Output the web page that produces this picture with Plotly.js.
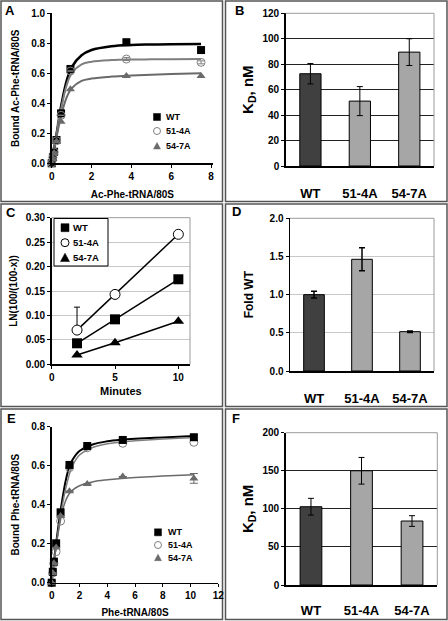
<!DOCTYPE html>
<html><head><meta charset="utf-8">
<script src="https://cdn.plot.ly/plotly-3.0.1.min.js"></script>
<style>html,body{margin:0;padding:0;background:#fff}</style>
</head><body><div id="chart" style="width:448px;height:621px"></div>
<script>
// ---------- DATA ----------
const seriesNames = ['WT', '51-4A', '54-7A'];
const barCats = ['WT', '51-4A', '54-7A'];

// Panel A: Ac-Phe-tRNA binding
const aX      = [0, 0.06, 0.12, 0.24, 0.47, 0.94, 3.75, 7.5];
const aWT     = [0, 0.04, 0.077, 0.155, 0.333, 0.629, 0.807, 0.755];
const aWTErr  = [0, 0, 0, 0, 0, 0, 0.02, 0];
const a514    = [0, 0.04, 0.075, 0.15, 0.32, 0.615, 0.695, 0.673];
const a514Err = [0, 0, 0, 0, 0, 0, 0.01, 0.01];
const a547    = [0, 0.03, 0.068, 0.145, 0.277, 0.493, 0.582, 0.582];
const aFitX     = [0, 0.25, 0.5, 0.75, 1, 1.5, 2, 3, 4, 5, 6, 7.5];
const aFitWT    = [0, 0.2, 0.4, 0.55, 0.64, 0.72, 0.755, 0.78, 0.789, 0.792, 0.794, 0.795];
const aFit514   = [0, 0.2, 0.38, 0.52, 0.6, 0.66, 0.677, 0.688, 0.692, 0.693, 0.694, 0.695];
const aFit547   = [0, 0.18, 0.33, 0.44, 0.5, 0.55, 0.565, 0.578, 0.585, 0.59, 0.595, 0.6];

// Panel B: KD (nM)
const bVals = [72.5, 51, 89.5];
const bErr  = [8, 11.4, 10.5];

// Panel C: LN(100/(100-x)) vs minutes
const cX      = [2, 5, 10];
const cWT     = [0.043, 0.092, 0.174];
const c514    = [0.07, 0.143, 0.266];
const c514Err = [0.047, 0, 0];
const c547    = [0.019, 0.044, 0.088];

// Panel D: Fold WT
const dVals = [1.0, 1.463, 0.515];
const dErr  = [0.045, 0.15, 0.01];

// Panel E: Phe-tRNA binding
const eX      = [0, 0.08, 0.16, 0.32, 0.64, 1.28, 2.56, 5.12, 10.24];
const eWT     = [0, 0.056, 0.108, 0.202, 0.361, 0.604, 0.701, 0.732, 0.746];
const e514    = [0, 0.05, 0.1, 0.159, 0.316, 0.59, 0.692, 0.715, 0.72];
const e547    = [0, 0.05, 0.1, 0.18, 0.342, 0.469, 0.506, 0.544, 0.535];
const e547Err = [0, 0, 0, 0, 0, 0, 0, 0, 0.025];
const eFitX   = [0, 0.25, 0.5, 0.75, 1, 1.25, 1.5, 2, 3, 4, 5, 6, 8, 10.24];
const eFitWT  = [0, 0.16, 0.3, 0.42, 0.52, 0.59, 0.63, 0.675, 0.71, 0.725, 0.733, 0.738, 0.745, 0.752];
const eFit514 = [0, 0.15, 0.28, 0.39, 0.48, 0.55, 0.6, 0.655, 0.695, 0.712, 0.722, 0.728, 0.737, 0.745];
const eFit547 = [0, 0.15, 0.27, 0.36, 0.42, 0.455, 0.475, 0.497, 0.518, 0.528, 0.535, 0.54, 0.547, 0.553];

// Panel F: KD (nM)
const fVals = [102.8, 150, 84];
const fErr  = [11, 17.5, 7];

// ---------- STYLE HELPERS ----------
const W = 448, H = 621;
const px = x => x / W, py = y => 1 - y / H;
const FONT = 'Liberation Sans, Arial, sans-serif';
const bold = (s, c) => ({family: FONT, size: s, weight: 'bold', color: c || '#000'});
const DARK = '#404040', LIGHT = '#a6a6a6';
const G1 = '#7f7f7f', G2 = '#6a6a6a';

function axis(dom, range, anchor, extra) {
  return Object.assign({
    domain: dom, range: range, anchor: anchor, showgrid: false, zeroline: false,
    showline: true, linecolor: '#000', linewidth: 1.5, ticks: 'outside', ticklen: 3,
    tickwidth: 1, tickcolor: '#000', tickfont: bold(10), fixedrange: true
  }, extra || {});
}
const errb = (arr, extra) => Object.assign({type: 'data', array: arr, visible: true, color: '#000', thickness: 1, width: 3}, extra || {});

const traces = [];
// Panel A
traces.push({x: aFitX, y: aFitWT, xaxis: 'x', yaxis: 'y', mode: 'lines', line: {color: '#000', width: 2.5, shape: 'spline'}, showlegend: false, hoverinfo: 'skip'});
traces.push({x: aFitX, y: aFit514, xaxis: 'x', yaxis: 'y', mode: 'lines', line: {color: G1, width: 2, shape: 'spline'}, showlegend: false, hoverinfo: 'skip'});
traces.push({x: aFitX, y: aFit547, xaxis: 'x', yaxis: 'y', mode: 'lines', line: {color: G2, width: 2, shape: 'spline'}, showlegend: false, hoverinfo: 'skip'});
traces.push({x: aX, y: aWT, name: seriesNames[0], xaxis: 'x', yaxis: 'y', mode: 'markers', marker: {symbol: 'square', size: 8, color: '#000'}, error_y: errb(aWTErr), cliponaxis: false, showlegend: false});
traces.push({x: aX, y: a514, name: seriesNames[1], xaxis: 'x', yaxis: 'y', mode: 'markers', marker: {symbol: 'circle-open', size: 8, color: G1, line: {width: 1}}, error_y: errb(a514Err, {color: G1}), cliponaxis: false, showlegend: false});
traces.push({x: aX, y: a547, name: seriesNames[2], xaxis: 'x', yaxis: 'y', mode: 'markers', marker: {symbol: 'triangle-up', size: 8, color: G2}, cliponaxis: false, showlegend: false});

// Panel B
traces.push({x: barCats, y: bVals, type: 'bar', xaxis: 'x2', yaxis: 'y2', marker: {color: [DARK, LIGHT, LIGHT], line: {color: '#000', width: 1}}, error_y: errb(bErr), showlegend: false});

// Panel C
const cTr = (y, name, sym, err) => {
  traces.push({x: cX, y: y, xaxis: 'x3', yaxis: 'y3', mode: 'lines', line: {color: '#000', width: 1.5}, showlegend: false, hoverinfo: 'skip'});
  const t = {x: cX, y: y, name: name, xaxis: 'x3', yaxis: 'y3', mode: 'markers', marker: sym, cliponaxis: false, showlegend: false};
  if (err) t.error_y = errb(err, {arrayminus: [0, 0, 0], symmetric: false, width: 3});
  traces.push(t);
};
cTr(cWT, seriesNames[0], {symbol: 'square', size: 10, color: '#000'});
cTr(c514, seriesNames[1], {symbol: 'circle', size: 10, color: '#fff', line: {color: '#000', width: 1}}, c514Err);
cTr(c547, seriesNames[2], {symbol: 'triangle-up', size: 10, color: '#000'});

// Panel D
traces.push({x: barCats, y: dVals, type: 'bar', xaxis: 'x4', yaxis: 'y4', marker: {color: [DARK, LIGHT, LIGHT], line: {color: '#000', width: 1}}, error_y: errb(dErr, {thickness: 1.5}), showlegend: false});

// Panel E
traces.push({x: eFitX, y: eFitWT, xaxis: 'x5', yaxis: 'y5', mode: 'lines', line: {color: '#000', width: 2, shape: 'spline'}, showlegend: false, hoverinfo: 'skip'});
traces.push({x: eFitX, y: eFit514, xaxis: 'x5', yaxis: 'y5', mode: 'lines', line: {color: G1, width: 1.5, shape: 'spline'}, showlegend: false, hoverinfo: 'skip'});
traces.push({x: eFitX, y: eFit547, xaxis: 'x5', yaxis: 'y5', mode: 'lines', line: {color: G2, width: 1.5, shape: 'spline'}, showlegend: false, hoverinfo: 'skip'});
traces.push({x: eX, y: e514, name: seriesNames[1], xaxis: 'x5', yaxis: 'y5', mode: 'markers', marker: {symbol: 'circle-open', size: 8, color: G1, line: {width: 1}}, cliponaxis: false, showlegend: false});
traces.push({x: eX, y: eWT, name: seriesNames[0], xaxis: 'x5', yaxis: 'y5', mode: 'markers', marker: {symbol: 'square', size: 8, color: '#000'}, cliponaxis: false, showlegend: false});
traces.push({x: eX, y: e547, name: seriesNames[2], xaxis: 'x5', yaxis: 'y5', mode: 'markers', marker: {symbol: 'triangle-up', size: 8, color: G2}, error_y: errb(e547Err, {color: G2, width: 4}), cliponaxis: false, showlegend: false});

// Panel F
traces.push({x: barCats, y: fVals, type: 'bar', xaxis: 'x6', yaxis: 'y6', marker: {color: [DARK, LIGHT, LIGHT], line: {color: '#000', width: 1}}, error_y: errb(fErr), showlegend: false});

// ---------- LAYOUT ----------
const dA = {x: [px(51.7), px(213)], y: [py(163.3), py(13.3)]};
const dB = {x: [px(285.7), px(434)], y: [py(166), py(13.3)]};
const dC = {x: [px(51.7), px(190)], y: [py(364.3), py(217.7)]};
const dD = {x: [px(290), px(434)], y: [py(371), py(218.3)]};
const dE = {x: [px(51.7), px(218.3)], y: [py(582.7), py(426.7)]};
const dF = {x: [px(285.7), px(437.3)], y: [py(585), py(432.7)]};

const barX = (dom, anchor, standoff) => axis(dom, [-0.5, 2.5], anchor, {ticks: '', tickfont: bold(13), ticklabelstandoff: standoff});

const layout = {
  width: W, height: H, margin: {l: 0, r: 0, t: 0, b: 0},
  paper_bgcolor: '#fff', plot_bgcolor: '#fff', showlegend: false,
  font: {family: FONT},
  xaxis: axis(dA.x, [0, 8.1], 'y', {dtick: 2, title: {text: 'Ac-Phe-tRNA/80S', font: bold(10), standoff: 10}}),
  yaxis: axis(dA.y, [0, 1], 'x', {dtick: 0.2, tickformat: '.1f', title: {text: 'Bound Ac-Phe-tRNA/80S', font: bold(10), standoff: 10}}),
  xaxis2: barX(dB.x, 'y2', 15),
  yaxis2: axis(dB.y, [0, 120], 'x2', {dtick: 20, showgrid: true, gridcolor: '#222', gridwidth: 1, title: {text: 'K<sub>D</sub>, nM', font: bold(15), standoff: 5}}),
  xaxis3: axis(dC.x, [0, 10.92], 'y3', {dtick: 5, title: {text: 'Minutes', font: bold(11), standoff: 5}}),
  yaxis3: axis(dC.y, [0, 0.3], 'x3', {dtick: 0.05, tickformat: '.2f', showgrid: true, gridcolor: '#c8c8c8', gridwidth: 1, title: {text: 'LN(100/(100-x))', font: bold(10), standoff: 6}}),
  xaxis4: barX(dD.x, 'y4', 15),
  yaxis4: axis(dD.y, [0, 2], 'x4', {dtick: 0.5, tickformat: '.1f', showgrid: true, gridcolor: '#c8c8c8', gridwidth: 1, title: {text: 'Fold WT', font: bold(12), standoff: 13}}),
  xaxis5: axis(dE.x, [0, 12], 'y5', {dtick: 2, title: {text: 'Phe-tRNA/80S', font: bold(10), standoff: 9}}),
  yaxis5: axis(dE.y, [0, 0.8], 'x5', {dtick: 0.2, tickformat: '.1f', title: {text: 'Bound Phe-tRNA/80S', font: bold(10), standoff: 10}}),
  xaxis6: barX(dF.x, 'y6', 13),
  yaxis6: axis(dF.y, [0, 200], 'x6', {dtick: 50, showgrid: true, gridcolor: '#222', gridwidth: 1, title: {text: 'K<sub>D</sub>, nM', font: bold(15), standoff: 5}}),
  bargap: 0.57,
  shapes: [],
  annotations: []
};

// grey frame (top & right) for B, C, D, F plot areas
[['x2', 'y2'], ['x3', 'y3'], ['x4', 'y4'], ['x6', 'y6']].forEach(([xa, ya]) => {
  layout.shapes.push({type: 'line', xref: xa + ' domain', yref: ya + ' domain', x0: 0, x1: 1, y0: 1, y1: 1, line: {color: '#9a9a9a', width: 1}});
  layout.shapes.push({type: 'line', xref: xa + ' domain', yref: ya + ' domain', x0: 1, x1: 1, y0: 0, y1: 1, line: {color: '#9a9a9a', width: 1}});
});

// panel frames
[[1, 1, 222.5, 201.5], [225.5, 1, 447, 201.5], [1, 204, 222.5, 406.5], [225.5, 204, 447, 406.5], [1, 409, 222.5, 619.5], [225.5, 409, 447, 619.5]]
  .forEach(r => layout.shapes.push({type: 'rect', xref: 'paper', yref: 'paper', x0: px(r[0]), x1: px(r[2]), y0: py(r[3]), y1: py(r[1]), line: {color: '#555', width: 1.5}, layer: 'below'}));

// panel letters
[['A', 9.5, 11], ['B', 239, 11], ['C', 11, 212.5], ['D', 236.5, 212], ['E', 11, 418], ['F', 236, 418]]
  .forEach(([t, x, y]) => layout.annotations.push({text: t, xref: 'paper', yref: 'paper', x: px(x), y: py(y), xanchor: 'center', yanchor: 'middle', showarrow: false, font: bold(13)}));

// custom legends
function legendSym(kind, cx, cy, s, color, fill, lw) {
  const h = s / 2;
  if (kind === 'square') {
    layout.shapes.push({type: 'rect', xref: 'paper', yref: 'paper', x0: px(cx - h), x1: px(cx + h), y0: py(cy + h), y1: py(cy - h), fillcolor: fill, line: {color: color, width: lw || 0.5}});
  } else if (kind === 'circle') {
    layout.shapes.push({type: 'circle', xref: 'paper', yref: 'paper', x0: px(cx - h), x1: px(cx + h), y0: py(cy + h), y1: py(cy - h), fillcolor: fill, line: {color: color, width: lw || 1}});
  } else {
    const p = `M ${px(cx - h)},${py(cy + h * 0.85)} L ${px(cx + h)},${py(cy + h * 0.85)} L ${px(cx)},${py(cy - h)} Z`;
    layout.shapes.push({type: 'path', xref: 'paper', yref: 'paper', path: p, fillcolor: fill, line: {color: color, width: lw || 0.5}});
  }
}
function legendText(t, x, y, size) {
  layout.annotations.push({text: t, xref: 'paper', yref: 'paper', x: px(x), y: py(y), xanchor: 'left', yanchor: 'middle', showarrow: false, font: bold(size)});
}
// A
legendSym('square', 157, 117, 7, '#000', '#000');
legendSym('circle', 157, 131, 7, G1, '#fff');
legendSym('triangle', 157, 146, 7, G2, G2);
legendText(seriesNames[0], 164, 117, 9);
legendText(seriesNames[1], 164, 131, 9);
legendText(seriesNames[2], 164, 146, 9);
// C legend box
layout.shapes.push({type: 'rect', xref: 'paper', yref: 'paper', x0: px(54), x1: px(108), y0: py(266), y1: py(218.5), fillcolor: '#fff', line: {color: '#000', width: 1}});
legendSym('square', 65, 227.7, 8, '#000', '#000');
legendSym('circle', 65, 242.7, 8, '#000', '#fff');
legendSym('triangle', 65, 257.7, 9, '#000', '#000');
legendText(seriesNames[0], 70.5, 227.7, 9.5);
legendText(seriesNames[1], 70.5, 242.7, 9.5);
legendText(seriesNames[2], 70.5, 257.7, 9.5);
// E
legendSym('square', 158, 532.3, 7, '#000', '#000');
legendSym('circle', 158, 545, 7, G1, '#fff');
legendSym('triangle', 158, 557.7, 7, G2, G2);
legendText(seriesNames[0], 165.5, 532.3, 9);
legendText(seriesNames[1], 165.5, 545, 9);
legendText(seriesNames[2], 165.5, 557.7, 9);

Plotly.newPlot('chart', traces, layout, {displayModeBar: false, staticPlot: true});
</script></body></html>
